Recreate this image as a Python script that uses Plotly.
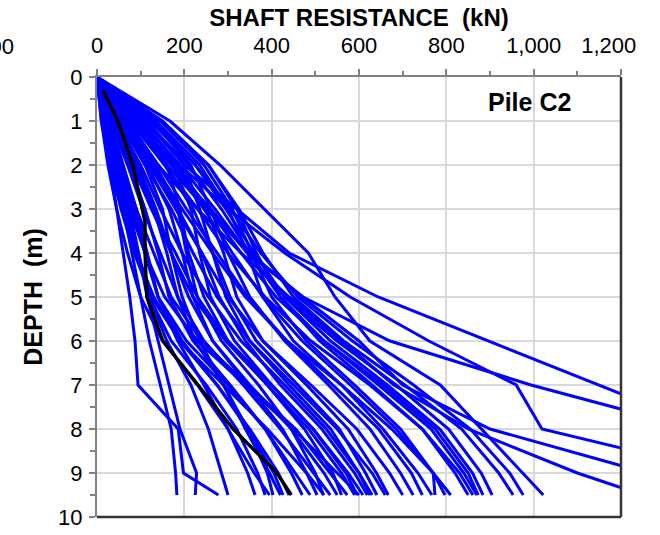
import plotly.graph_objects as go

# ---------------- data ----------------
depth = [0, 1, 2, 3, 4, 5, 6, 7, 8, 9, 9.5]

pile_a = [0, 167, 282, 383, 484, 545, 625, 786, 880, 974, 1022]
pile_b = [0, 110, 200, 320, 440, 644, 896, 1150, 1400, 1650, 1780]
pile_c = [0, 90, 170, 260, 344, 472, 671, 994, 1370, 1740, 1920]
pile_d = [0, 100, 190, 300, 430, 580, 760, 960, 1019, 1440, 1650]
pile_e = [0, 80, 160, 250, 350, 470, 600, 700, 900, 1260, 1440]
pile_f = [0, 70, 140, 230, 330, 440, 560, 680, 850, 1100, 1250]
pile_g1 = [0, 15, 30, 45, 60, 75, 87, 94, 186, 198, 278]
pile_g2 = [0, 20, 40, 60, 80, 100, 120, 145, 170, 180, 183]
pile_g3 = [0, 25, 50, 75, 95, 115, 140, 165, 190, 228, 225]
pile_01 = [0, 20, 45, 70, 95, 120, 160, 215, 255, 285, 300]
pile_02 = [0, 30, 60, 90, 115, 140, 185, 245, 300, 345, 362]
pile_03 = [0, 15, 40, 65, 90, 120, 170, 250, 320, 368, 385]
pile_04 = [0, 45, 90, 130, 160, 185, 225, 290, 345, 390, 403]
pile_05 = [0, 25, 55, 85, 110, 140, 195, 275, 345, 405, 426]
pile_06 = [0, 55, 110, 150, 170, 195, 235, 290, 340, 395, 420]
pile_07 = [0, 35, 75, 110, 140, 165, 220, 305, 385, 445, 470]
pile_08 = [0, 20, 50, 80, 110, 140, 205, 300, 385, 455, 488]
pile_09 = [0, 50, 95, 135, 170, 210, 265, 345, 425, 480, 504]
pile_10 = [0, 70, 135, 185, 205, 230, 285, 370, 445, 500, 518]
pile_11 = [0, 30, 70, 105, 145, 185, 245, 335, 420, 495, 534]
pile_12 = [0, 60, 115, 165, 195, 220, 265, 350, 445, 520, 550]
pile_13 = [0, 85, 160, 190, 210, 245, 300, 390, 475, 540, 560]
pile_14 = [0, 25, 55, 90, 130, 170, 240, 345, 455, 535, 573]
pile_15 = [0, 40, 85, 125, 170, 220, 295, 390, 485, 560, 590]
pile_16 = [0, 95, 175, 215, 235, 260, 315, 400, 495, 570, 596]
pile_17 = [0, 35, 80, 125, 180, 230, 300, 400, 495, 575, 609]
pile_18 = [0, 65, 125, 185, 240, 280, 340, 420, 515, 590, 619]
pile_19 = [0, 115, 200, 235, 265, 295, 350, 440, 535, 600, 625]
pile_20 = [0, 45, 100, 145, 195, 255, 330, 430, 525, 600, 630]
pile_21 = [0, 80, 155, 220, 265, 305, 365, 460, 555, 615, 641]
pile_22 = [0, 50, 110, 170, 220, 275, 350, 450, 550, 630, 660]
pile_23 = [0, 105, 185, 250, 290, 320, 380, 480, 575, 640, 667]
pile_24 = [0, 55, 120, 180, 240, 300, 380, 490, 595, 670, 700]
pile_25 = [0, 125, 215, 260, 300, 350, 430, 530, 625, 695, 724]
pile_26 = [0, 70, 140, 205, 275, 345, 435, 540, 645, 720, 745]
pile_27 = [0, 135, 235, 300, 345, 380, 450, 560, 655, 735, 767]
pile_28 = [0, 85, 170, 245, 310, 380, 470, 580, 685, 770, 774]
pile_29 = [0, 145, 245, 310, 355, 400, 480, 590, 695, 770, 797]
pile_30 = [0, 60, 130, 195, 265, 340, 435, 560, 675, 770, 810]
pile_31 = [0, 150, 255, 320, 365, 420, 510, 630, 745, 820, 850]
pile_32 = [0, 75, 155, 230, 300, 385, 490, 625, 745, 830, 861]
pile_33 = [0, 110, 210, 285, 350, 420, 520, 645, 765, 840, 870]
pile_34 = [0, 90, 180, 255, 330, 410, 520, 655, 775, 850, 873]
pile_35 = [0, 130, 225, 295, 360, 430, 535, 665, 785, 860, 884]
pile_36 = [0, 100, 190, 270, 345, 430, 550, 685, 805, 880, 905]
pile_37 = [0, 145, 255, 325, 380, 450, 565, 705, 835, 920, 953]
pile_38 = [0, 120, 225, 305, 375, 460, 585, 725, 855, 945, 976]
pile_39 = [0, 10, 25, 45, 70, 100, 150, 230, 300, 360, 395]
pile_40 = [0, 15, 35, 60, 90, 130, 190, 275, 350, 415, 440]
pile_41 = [0, 10, 30, 55, 85, 125, 190, 290, 390, 480, 520]
pile_42 = [0, 20, 45, 75, 110, 155, 230, 340, 450, 550, 600]

mean_depth = [0.3, 1, 2, 3, 3.3, 4, 5, 6, 7, 8, 9, 9.5]
mean_resistance = [14, 48, 82, 105, 110, 110, 114, 151, 232, 312, 412, 445]

x_ticks = [0, 200, 400, 600, 800, 1000, 1200]
x_tick_labels = ["0", "200", "400", "600", "800", "1,000",
                 "1,200\u00a0\u00a0\u00a0\u00a0"]
y_ticks = [0, 1, 2, 3, 4, 5, 6, 7, 8, 9, 10]

blue_series = [pile_a, pile_b, pile_c, pile_d, pile_e, pile_f, pile_g1, pile_g2, pile_g3,
               pile_01, pile_02, pile_03, pile_04, pile_05, pile_06, pile_07, pile_08,
               pile_09, pile_10, pile_11, pile_12, pile_13, pile_14, pile_15, pile_16,
               pile_17, pile_18, pile_19, pile_20, pile_21, pile_22, pile_23, pile_24,
               pile_25, pile_26, pile_27, pile_28, pile_29, pile_30, pile_31, pile_32,
               pile_33, pile_34, pile_35, pile_36, pile_37, pile_38, pile_39, pile_40,
               pile_41, pile_42]

# ---------------- figure ----------------
FONT = "Arial, 'Liberation Sans', sans-serif"
fig = go.Figure()

for s in blue_series:
    fig.add_trace(go.Scatter(x=s, y=depth, mode="lines",
                             line=dict(color="#0000FF", width=3),
                             showlegend=False, hoverinfo="skip"))

fig.add_trace(go.Scatter(x=mean_resistance, y=mean_depth, mode="lines",
                         line=dict(color="#000000", width=3.4),
                         showlegend=False, hoverinfo="skip"))

fig.update_layout(
    width=660, height=535,
    margin=dict(l=97, r=39, t=77, b=18),
    paper_bgcolor="white", plot_bgcolor="white",
    font=dict(family=FONT, size=22, color="black"),
    xaxis=dict(
        side="top", range=[0, 1200], tickvals=x_ticks, ticktext=x_tick_labels,
        automargin=False, ticklabeloverflow="allow",
        showgrid=True, gridcolor="#d9d9d9", gridwidth=1.5,
        showline=True, linecolor="#808080", linewidth=2,
        ticks="outside", ticklen=6, tickcolor="#808080", tickwidth=1.5,
        ticklabelstandoff=7,
        minor=dict(dtick=100, ticks="outside", ticklen=4, tickcolor="#808080",
                   showgrid=False),
        zeroline=False,
        title=dict(text="<b>SHAFT RESISTANCE  (kN)</b>", font=dict(size=24),
                   standoff=0),
    ),
    yaxis=dict(
        range=[10, 0], tickvals=y_ticks, automargin=False,
        showgrid=True, gridcolor="#d9d9d9", gridwidth=1.5,
        showline=True, linecolor="#808080", linewidth=2,
        ticks="outside", ticklen=6, tickcolor="#808080", tickwidth=1.5,
        ticklabelstandoff=2,
        minor=dict(dtick=0.5, ticks="outside", ticklen=5, tickcolor="#808080",
                   showgrid=False),
        zeroline=False,
        title=dict(text="<b>DEPTH  (m)</b>", font=dict(size=25), standoff=8),
    ),
    shapes=[
        dict(type="line", xref="paper", yref="paper", x0=0, x1=1, y0=0, y1=0,
             line=dict(color="#333333", width=2.5)),
        dict(type="line", xref="paper", yref="paper", x0=1, x1=1, y0=0, y1=1,
             line=dict(color="#333333", width=2.5)),
    ],
    annotations=[
        dict(text="<b>Pile C2</b>", xref="paper", yref="paper", x=0.908, y=0.943,
             xanchor="right", yanchor="middle", showarrow=False,
             font=dict(size=25, family=FONT)),
        dict(text="1,200", xref="paper", yref="paper", x=-0.154, y=1.07,
             xanchor="right", yanchor="middle", showarrow=False,
             font=dict(size=22, family=FONT)),
    ],
)

fig.write_html("out.html")
